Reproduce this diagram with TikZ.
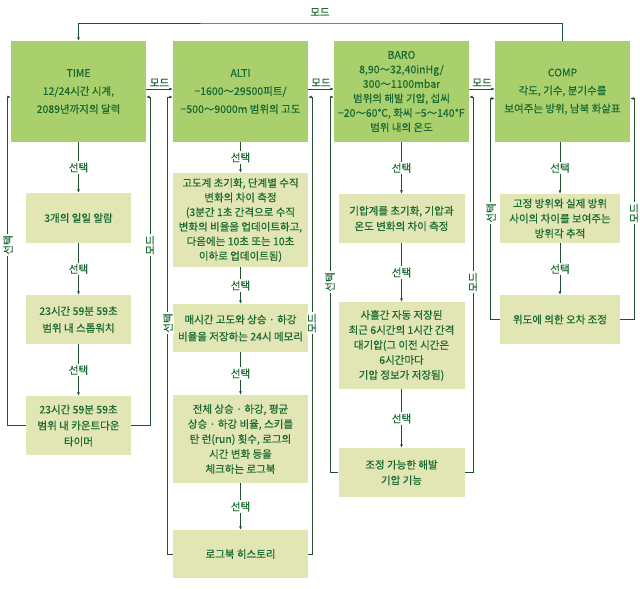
\documentclass[tikz,border=0pt]{standalone}
\usepackage{fontspec}
\setmainfont{Noto Sans CJK KR}[FakeBold=0.6]
\usetikzlibrary{calc,arrows.meta}
\definecolor{modegreen}{HTML}{A9D06D}
\definecolor{subgreen}{HTML}{E2E6B4}
\definecolor{linegreen}{HTML}{1F4F2F}
\definecolor{textgreen}{HTML}{1B6A33}
\tikzset{
	modebox/.style={fill=modegreen, text=textgreen, minimum width=135pt, minimum height=101pt, inner sep=0pt, align=center, font=\fontsize{10.5}{18}\selectfont},
	subbox/.style={fill=subgreen, text=textgreen, inner sep=0pt, align=center, font=\fontsize{10.5}{15.5}\selectfont},
	timesub/.style={subbox, minimum width=105pt},
	altisub/.style={subbox, minimum width=135pt},
	barosub/.style={subbox, minimum width=126pt},
	compsub/.style={subbox, minimum width=120pt},
	link/.style={draw=linegreen, line width=0.8pt, -{Latex[length=3.5pt,width=3pt]}},
	tag/.style={fill=white, text=textgreen, inner sep=1.5pt, font=\fontsize{10.5}{12}\selectfont},
}

\begin{document}
\begin{tikzpicture}[x=1pt, y=-1pt]
			%%%%% START %%%%%
			\useasboundingbox (0, 0) rectangle (640, 589);
			
			\node[modebox] (TIME) at (78.5, 91.5) {TIME\\12/24시간 시계,\\2089년까지의 달력};
			\node[modebox] (ALTI) at (240.5, 91.5) {ALTI\\−1600～29500피트/\\−500～9000m 범위의 고도};
			\node[modebox, font=\fontsize{10.5}{14.5}\selectfont] (BARO) at (401.5, 91.5) {BARO\\8,90～32,40inHg/\\300～1100mbar\\범위의 해발 기압, 섭씨\\−20～60℃, 화씨 −5～140℉\\범위 내의 온도};
			\node[modebox] (COMP) at (562.5, 91.5) {COMP\\각도, 기수, 분기수를\\보여주는 방위, 남북 화살표};
			
			\node[timesub, minimum height=50pt] (t1) at (78.5, 218) {3개의 일일 알람};
			\node[timesub, minimum height=49pt, font=\fontsize{10.5}{17}\selectfont] (t2) at (78.5, 319.5) {23시간 59분 59초\\범위 내 스톱워치};
			\node[timesub, minimum height=59pt, font=\fontsize{10.5}{16}\selectfont] (t3) at (78.5, 425.5) {23시간 59분 59초\\범위 내 카운트다운\\타이머};
			
			\node[altisub, minimum height=94pt, font=\fontsize{10.5}{14.6}\selectfont] (a1) at (240.5, 220) {고도계 초기화, 단계별 수직\\변화의 차이 측정\\(3분간 1초 간격으로 수직\\변화의 비율을 업데이트하고,\\다음에는 10초 또는 10초\\이하로 업데이트됨)};
			\node[altisub, minimum height=48pt, font=\fontsize{10.5}{17}\selectfont] (a2) at (240.5, 328) {매시간 고도와 상승 · 하강\\비율을 저장하는 24시 메모리};
			\node[altisub, minimum height=88pt, font=\fontsize{10.5}{15}\selectfont] (a3) at (240.5, 439) {전체 상승 · 하강, 평균\\상승 · 하강 비율, 스키를\\탄 런(run) 횟수, 로그의\\시간 변화 등을\\체크하는 로그북};
			\node[altisub, minimum height=48pt] (a4) at (240.5, 554) {로그북 히스토리};
			
			\node[barosub, minimum height=49pt] (b1) at (401.5, 218.5) {기압계를 초기화, 기압과\\온도 변화의 차이 측정};
			\node[barosub, minimum height=87pt, font=\fontsize{10.5}{15}\selectfont] (b2) at (401.5, 345.5) {사흘간 자동 저장된\\최근 6시간의 1시간 간격\\대기압(그 이전 시간은\\6시간마다\\기압 정보가 저장됨)};
			\node[barosub, minimum height=49pt] (b3) at (401.5, 472.5) {조정 가능한 해발\\기압 기능};
			
			\node[compsub, minimum height=49pt, font=\fontsize{10.5}{15}\selectfont] (c1) at (560, 218.5) {고정 방위와 실제 방위\\사이의 차이를 보여주는\\방위각 추적};
			\node[compsub, minimum height=49pt] (c2) at (560, 319.5) {위도에 의한 오차 조정};
			
			% mode chain
			\coordinate (top) at (320, 23);
			\draw[link] (COMP.north) |- (top) -| (TIME.north);
			\node[text=textgreen, font=\fontsize{10.5}{12}\selectfont] (topmode) at (320, 12) {모드};
			\draw[link] ([yshift=2.5pt]TIME.east) -- node[above, text=textgreen, inner sep=2pt, font=\fontsize{10.5}{12}\selectfont] (modeTA) {모드} ([yshift=2.5pt]ALTI.west);
			\draw[link] ([yshift=2.5pt]ALTI.east) -- node[above, text=textgreen, inner sep=2pt, font=\fontsize{10.5}{12}\selectfont] (modeAB) {모드} ([yshift=2.5pt]BARO.west);
			\draw[link] ([yshift=2.5pt]BARO.east) -- node[above, text=textgreen, inner sep=2pt, font=\fontsize{10.5}{12}\selectfont] (modeBC) {모드} ([yshift=2.5pt]COMP.west);
			
			% select chains
			\draw[link] (TIME) -- node[tag] (selT1) {선택} (t1);
			\draw[link] (t1) -- node[tag] (selT2) {선택} (t2);
			\draw[link] (t2) -- node[tag] (selT3) {선택} (t3);
			
			\draw[link] (ALTI) -- node[tag] (selA1) {선택} (a1);
			\draw[link] (a1) -- node[tag] (selA2) {선택} (a2);
			\draw[link] (a2) -- node[tag] (selA3) {선택} (a3);
			\draw[link] (a3) -- node[tag] (selA4) {선택} (a4);
			
			\draw[link] (BARO) -- node[tag] (selB1) {선택} (b1);
			\draw[link] (b1) -- node[tag] (selB2) {선택} (b2);
			\draw[link] (b2) -- node[tag] (selB3) {선택} (b3);
			
			\draw[link] ([xshift=-2.5pt]COMP.south) -- node[tag] (selC1) {선택} (c1);
			\draw[link] (c1) -- node[tag] (selC2) {선택} (c2);
			
			% return loops
			\draw[link] (t3.west) -- ++(-18, 0) |- ([yshift=-5.5pt]TIME.west);
			\draw[link] (t3.east) -- ++(19, 0) |- ([yshift=-5.5pt]TIME.east);
			\draw[link] (a4.west) -- ++(-5, 0) |- ([yshift=-5.5pt]ALTI.west);
			\draw[link] (a4.east) -- ++(4, 0) |- ([yshift=-5.5pt]ALTI.east);
			\draw[link] (b3.west) -- ++(-8, 0) |- ([yshift=-5.5pt]BARO.west);
			\draw[link] (b3.east) -- ++(9, 0) |- ([yshift=-5.5pt]BARO.east);
			\draw[link] (c2.west) -- ++(-9, 0) |- ([yshift=-7pt]COMP.west);
			\draw[link] (c2.east) -- ++(14, 0) |- ([yshift=-7pt]COMP.east);
			
			\node[tag, rotate=90] (loopT1) at (8, 245) {선택};
			\node[tag, rotate=90] (loopT2) at (150, 245) {모드};
			\node[tag, rotate=90] (loopA1) at (168, 323) {선택};
			\node[tag, rotate=90] (loopA2) at (312, 323) {모드};
			\node[tag, rotate=90] (loopB1) at (330, 282) {선택};
			\node[tag, rotate=90] (loopB2) at (473, 282) {모드};
			\node[tag, rotate=90] (loopC1) at (491, 213) {선택};
			\node[tag, rotate=90] (loopC2) at (634, 213) {모드};
			
			%%%%% END %%%%%
\end{tikzpicture}
\end{document}
